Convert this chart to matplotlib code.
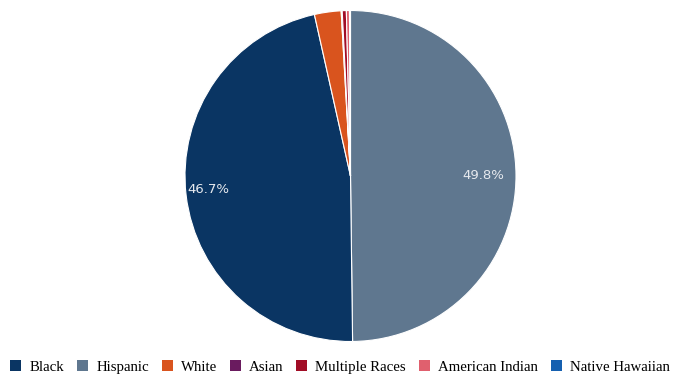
import matplotlib
matplotlib.use("Agg")
import matplotlib.pyplot as plt
from matplotlib.patches import Patch

# slices, in drawing order (clockwise from top)
races = ['Hispanic', 'Black', 'White', 'Asian', 'Multiple Races',
         'American Indian', 'Native Hawaiian']
shares = [49.8, 46.7, 2.6, 0.1, 0.4, 0.3, 0.1]
colors = ['#5f778f', '#0a3563', '#d9541e', '#6a1b5f', '#a10d26',
          '#e0606e', '#1560b0']

# legend order
legend_order = ['Black', 'Hispanic', 'White', 'Asian', 'Multiple Races',
                'American Indian', 'Native Hawaiian']

fig = plt.figure(figsize=(6.8, 3.78), dpi=100)
ax = fig.add_axes([185 / 680, 36.5 / 378, 331 / 680, 331 / 378])

def fmt(p):
    return f'{p:.1f}%' if p > 10 else ''

wedges, texts, autotexts = ax.pie(
    shares, colors=colors, startangle=90, counterclock=False,
    autopct=fmt, pctdistance=0.8,
    wedgeprops=dict(edgecolor='white', linewidth=0.8),
    textprops=dict(color='#e6e9ee', fontsize=9.5))
# the Black label sits a bit further out
x, y = autotexts[1].get_position()
autotexts[1].set_position((x * 1.08, y * 0.85))
ax.set_xlim(-1, 1)
ax.set_ylim(-1, 1)
ax.set_aspect('auto')
ax.axis('off')

cmap = dict(zip(races, colors))
handles = [Patch(facecolor=cmap[r], edgecolor='none') for r in legend_order]
fig.legend(handles, legend_order, loc='center', bbox_to_anchor=(0.5, 11 / 378),
           ncol=7, frameon=False, handlelength=0.75, handleheight=0.75,
           handletextpad=0.55, columnspacing=0.85, borderpad=0,
           prop=dict(family='Liberation Serif', size=10.7))

fig.savefig('out.png', dpi=100)
